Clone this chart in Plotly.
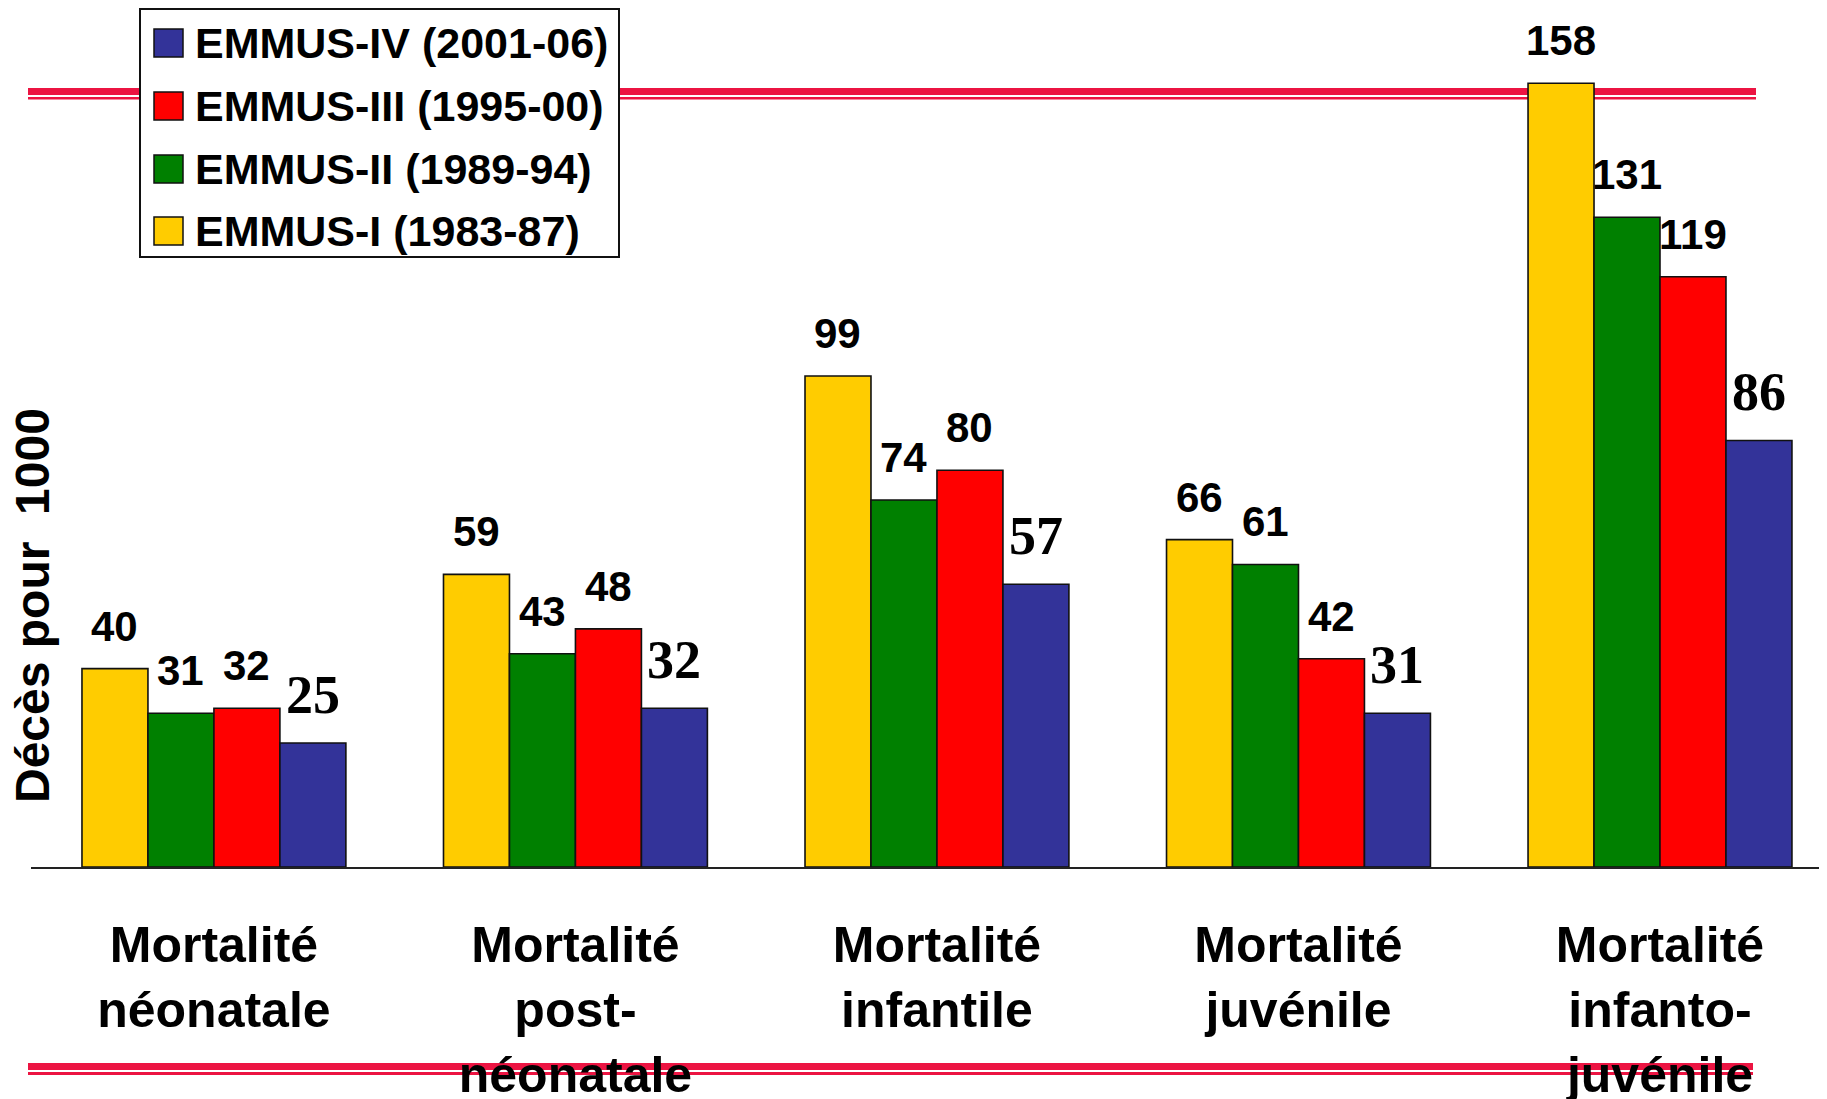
import plotly.graph_objects as go

# ---------------- data ----------------
categories = [
    "Mortalité<br>néonatale",
    "Mortalité<br>post-<br>néonatale",
    "Mortalité<br>infantile",
    "Mortalité<br>juvénile",
    "Mortalité<br>infanto-<br>juvénile",
]
series_names = ["EMMUS-I (1983-87)", "EMMUS-II (1989-94)", "EMMUS-III (1995-00)", "EMMUS-IV (2001-06)"]
emmus_1 = [40, 59, 99, 66, 158]
emmus_2 = [31, 43, 74, 61, 131]
emmus_3 = [32, 48, 80, 42, 119]
emmus_4 = [25, 32, 57, 31, 86]
series_values = [emmus_1, emmus_2, emmus_3, emmus_4]
y_title = "Décès pour\u00a0 1000"

# ---------------- styles ----------------
colors = ["#FFCC00", "#008000", "#FF0000", "#333399"]
SANS = "Liberation Sans, Arial, sans-serif"
SERIF = "Liberation Serif, Times New Roman, serif"
BAND = "#EC1442"

OFF = 8  # page body margin
W, H = 1827, 1099
ML, MR, MT, MB = 31 - OFF, 0, 0, H - (867 - OFF)
PW, PH = W - ML - MR, H - MT - MB
BARGAP = 0.27
Y_MAX = PH / 4.96


def px(x):
    return (x - OFF - ML) / PW


def py(y):
    return (MT + PH - (y - OFF)) / PH


fig = go.Figure()
for k, (name, vals) in enumerate(zip(series_names, series_values)):
    fig.add_trace(go.Bar(
        x=categories, y=vals, name=name,
        marker=dict(color=colors[k], line=dict(color="#111111", width=1.6)),
        showlegend=False,
    ))

# value labels above bars
n = len(series_values)
bw = (1 - BARGAP) / n
annotations = []
for k, vals in enumerate(series_values):
    last = k == n - 1
    for i, v in enumerate(vals):
        annotations.append(dict(
            x=i + (k - (n - 1) / 2) * bw, y=v, xref="x", yref="y",
            text=str(v), showarrow=False, yanchor="bottom", xanchor="center",
            yshift=16 if last else 17,
            font=dict(family=SERIF if last else SANS, size=54 if last else 42,
                      color="black", weight="bold"),
        ))

# y-axis title
annotations.append(dict(
    x=px(32), y=py(606), xref="paper", yref="paper", text=y_title,
    textangle=-90, showarrow=False, xanchor="center", yanchor="middle",
    font=dict(family=SANS, size=48, color="black", weight="bold"),
))

shapes = []
# decorative red bands
for (x0, x1, y0, y1) in [(28, 1756, 88, 95), (28, 1756, 97, 99.5),
                         (28, 1753, 1063, 1070), (28, 1753, 1072, 1075)]:
    shapes.append(dict(type="rect", xref="paper", yref="paper",
                       x0=px(x0), x1=px(x1), y0=py(y1), y1=py(y0),
                       fillcolor=BAND, line=dict(width=0), layer="below"))

# custom legend (top to bottom: IV, III, II, I)
shapes.append(dict(type="rect", xref="paper", yref="paper",
                   x0=px(140), x1=px(619), y0=py(257), y1=py(9),
                   fillcolor="white", line=dict(color="#111111", width=2), layer="above"))
row_y = [43, 106, 169, 231]
for r, k in enumerate(reversed(range(n))):
    yc = row_y[r]
    shapes.append(dict(type="rect", xref="paper", yref="paper",
                       x0=px(154), x1=px(183), y0=py(yc + 14), y1=py(yc - 14),
                       fillcolor=colors[k], line=dict(color="#111111", width=1.5),
                       layer="above"))
    annotations.append(dict(
        x=px(193), y=py(yc), xref="paper", yref="paper", text=series_names[k],
        showarrow=False, xanchor="left", yanchor="middle",
        font=dict(family=SANS, size=43, color="black", weight="bold"),
    ))

x_left = -0.506
x_right = 4 + (W + OFF - 1660) / 361.5

fig.update_layout(
    width=W, height=H,
    margin=dict(l=ML, r=MR, t=MT, b=MB, pad=0, autoexpand=False),
    paper_bgcolor="white", plot_bgcolor="white",
    barmode="group", bargap=BARGAP, bargroupgap=0,
    showlegend=False,
    annotations=annotations, shapes=shapes,
    xaxis=dict(
        range=[x_left, x_right], showgrid=False, zeroline=False,
        showline=True, linecolor="#222222", linewidth=2,
        ticks="", ticklabelstandoff=33, automargin=False,
        tickfont=dict(family=SANS, size=50, color="black", weight="bold"),
    ),
    yaxis=dict(
        range=[0, Y_MAX], showgrid=False, zeroline=False, showline=False,
        showticklabels=False, ticks="", automargin=False,
    ),
)

fig.write_html("out.html")
